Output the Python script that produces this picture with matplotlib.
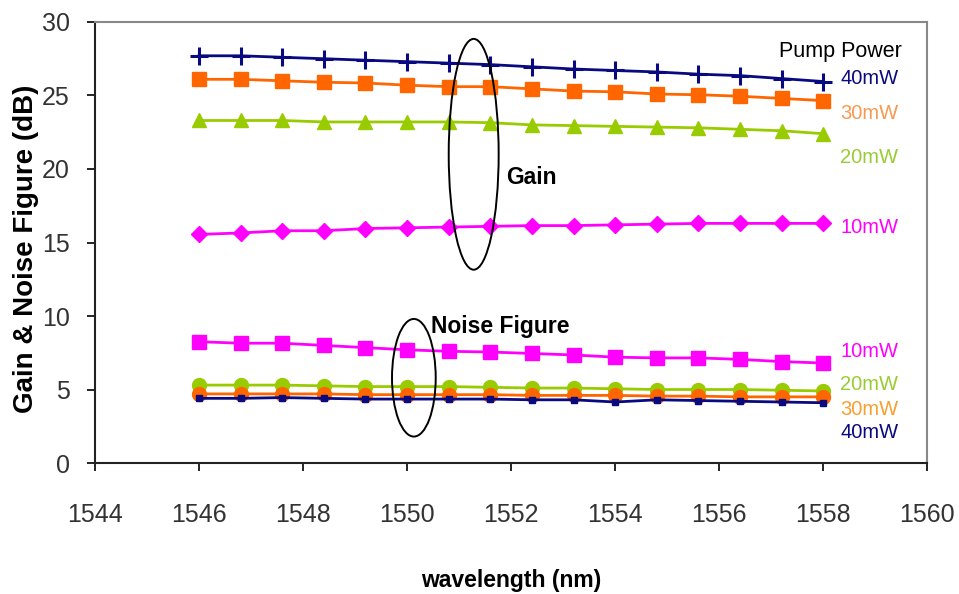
import matplotlib
matplotlib.use("Agg")
import matplotlib.pyplot as plt
from matplotlib.patches import Ellipse

plt.rcParams['font.family'] = ['Liberation Sans', 'DejaVu Sans']

wavelength = [1546.0, 1546.8, 1547.6, 1548.4, 1549.2, 1550.0, 1550.8, 1551.6,
              1552.4, 1553.2, 1554.0, 1554.8, 1555.6, 1556.4, 1557.2, 1558.0]

gain_40 = [27.7, 27.7, 27.6, 27.5, 27.4, 27.3, 27.2, 27.1, 26.95, 26.8, 26.7, 26.6, 26.45, 26.35, 26.15, 25.95]
gain_30 = [26.1, 26.1, 26.0, 25.9, 25.85, 25.7, 25.6, 25.6, 25.45, 25.3, 25.25, 25.1, 25.05, 24.95, 24.8, 24.65]
gain_20 = [23.3, 23.3, 23.3, 23.2, 23.2, 23.2, 23.2, 23.15, 23.0, 22.95, 22.9, 22.85, 22.8, 22.7, 22.6, 22.4]
gain_10 = [15.55, 15.65, 15.8, 15.8, 15.95, 16.0, 16.05, 16.1, 16.15, 16.15, 16.2, 16.25, 16.3, 16.3, 16.3, 16.3]

nf_10 = [8.25, 8.15, 8.15, 8.0, 7.85, 7.7, 7.6, 7.55, 7.45, 7.35, 7.2, 7.15, 7.15, 7.05, 6.9, 6.8]
nf_20 = [5.3, 5.3, 5.3, 5.25, 5.2, 5.2, 5.2, 5.15, 5.1, 5.1, 5.05, 5.0, 5.0, 5.0, 4.95, 4.9]
nf_30 = [4.7, 4.7, 4.7, 4.7, 4.65, 4.65, 4.65, 4.65, 4.6, 4.6, 4.6, 4.55, 4.55, 4.5, 4.5, 4.5]
nf_40 = [4.4, 4.4, 4.45, 4.4, 4.35, 4.35, 4.35, 4.35, 4.3, 4.3, 4.15, 4.3, 4.25, 4.2, 4.15, 4.1]

xticks = [1544, 1546, 1548, 1550, 1552, 1554, 1556, 1558, 1560]
yticks = [0, 5, 10, 15, 20, 25, 30]

navy = '#0a0a80'
orange = '#ff6600'
green = '#99cc00'
magenta = '#ff00ff'

fig = plt.figure(figsize=(9.59, 5.94), dpi=100)
ax = fig.add_axes([0.099, 0.2205, 0.868, 0.7425])

ax.plot(wavelength, gain_40, color=navy, lw=2, marker='+', ms=13, mew=2.2, zorder=5)
ax.plot(wavelength, gain_30, color=orange, lw=2, marker='s', ms=10.5, zorder=4)
ax.plot(wavelength, gain_20, color=green, lw=2, marker='^', ms=10.5, zorder=4)
ax.plot(wavelength, gain_10, color=magenta, lw=2, marker='D', ms=8.5, zorder=4)

ax.plot(wavelength, nf_10, color=magenta, lw=2, marker='s', ms=10.5, zorder=4)
ax.plot(wavelength, nf_20, color=green, lw=2, marker='o', ms=10, zorder=3)
ax.plot(wavelength, nf_30, color=orange, lw=2, marker='o', ms=10, zorder=4)
ax.plot(wavelength, nf_40, color=navy, lw=2, marker='s', ms=5, zorder=5)

ax.add_patch(Ellipse((1551.28, 21.0), 0.96, 15.7, fill=False, ec='black', lw=1.4, zorder=6))
ax.add_patch(Ellipse((1550.13, 5.8), 0.84, 8.0, fill=False, ec='black', lw=1.4, zorder=6))

ax.text(1551.9, 19.45, 'Gain', fontsize=16.5, fontweight='bold', va='center', ha='left')
ax.text(1550.45, 9.3, 'Noise Figure', fontsize=16.5, fontweight='bold', va='center', ha='left')

ax.text(1557.15, 28.0, 'Pump Power', fontsize=15.5, va='center', ha='left', color='black')
lx = 1558.33
fs = 14.5
ax.text(lx, 26.15, '40mW', fontsize=fs, va='center', ha='left', color=navy)
ax.text(lx, 23.75, '30mW', fontsize=fs, va='center', ha='left', color='#f59a50')
ax.text(lx, 20.8, '20mW', fontsize=fs, va='center', ha='left', color='#99cc33')
ax.text(lx, 16.05, '10mW', fontsize=fs, va='center', ha='left', color=magenta)
ax.text(lx, 7.6, '10mW', fontsize=fs, va='center', ha='left', color=magenta)
ax.text(lx, 5.35, '20mW', fontsize=fs, va='center', ha='left', color='#99cc33')
ax.text(lx, 3.65, '30mW', fontsize=fs, va='center', ha='left', color='#f5a030')
ax.text(lx, 2.1, '40mW', fontsize=fs, va='center', ha='left', color=navy)

ax.set_xlim(1544, 1560)
ax.set_ylim(0, 30)
ax.set_xticks(xticks)
ax.set_yticks(yticks)
ax.tick_params(axis='both', direction='out', length=6, width=1.2, labelsize=18,
               labelcolor='#333333')
ax.tick_params(axis='x', pad=23)
ax.tick_params(axis='y', pad=12)
for s in ['left', 'bottom']:
    ax.spines[s].set_linewidth(1.5)
    ax.spines[s].set_color('#222222')
for s in ['top', 'right']:
    ax.spines[s].set_linewidth(1.5)
    ax.spines[s].set_color('#888888')

ax.set_xlabel('wavelength (nm)', fontsize=16.5, fontweight='bold', labelpad=30)
ax.set_ylabel('Gain & Noise Figure (dB)', fontsize=20, fontweight='bold', labelpad=4)
ax.yaxis.set_label_coords(-0.067, 0.485)

fig.savefig('out.png', dpi=100)
